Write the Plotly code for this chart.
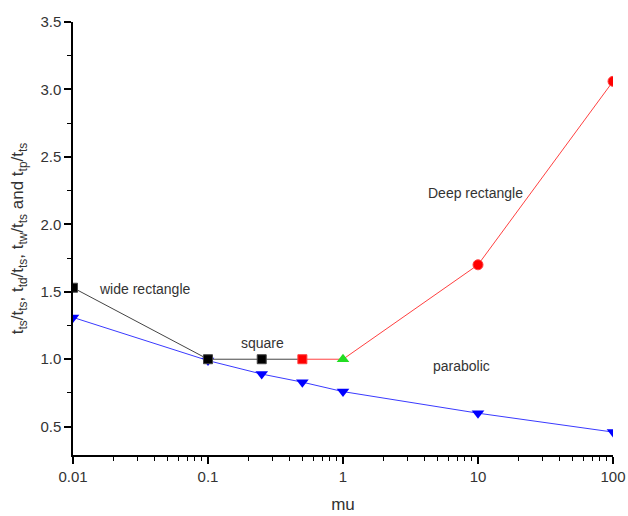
import plotly.graph_objects as go

# data
wide_x = [0.01, 0.1, 0.25, 0.5]
wide_y = [1.53, 1.0, 1.0, 1.0]
wide_sizes = [9, 9, 9, 0]
deep_x = [0.5, 1, 10, 100]
deep_y = [1.0, 1.0, 1.70, 3.06]
deep_symbols = ["square", "circle", "circle", "circle"]
deep_sizes = [9, 0, 10, 10]
sq_x = [1]
sq_y = [1.0]
para_x = [0.01, 0.1, 0.25, 0.5, 1, 10, 100]
para_y = [1.31, 0.99, 0.89, 0.83, 0.76, 0.60, 0.46]
x_ticks = [0.01, 0.1, 1, 10, 100]
x_ticklabels = ["0.01", "0.1", "1", "10", "100"]
y_ticks = [0.5, 1.0, 1.5, 2.0, 2.5, 3.0, 3.5]

font = "Liberation Sans, Arial, sans-serif"

fig = go.Figure()
fig.add_trace(go.Scatter(x=para_x, y=para_y, mode="lines+markers",
                         line=dict(color="#3a3aff", width=1),
                         marker=dict(symbol="triangle-down", size=11, color="#0000ff", opacity=1),
                         showlegend=False))
fig.add_trace(go.Scatter(x=wide_x, y=wide_y, mode="lines+markers",
                         line=dict(color="#444444", width=1),
                         marker=dict(symbol="square", size=wide_sizes, color="#000000", opacity=1),
                         showlegend=False))
fig.add_trace(go.Scatter(x=deep_x, y=deep_y, mode="lines+markers",
                         line=dict(color="#ff4040", width=1),
                         marker=dict(symbol=deep_symbols, size=deep_sizes, color="#ff0000", opacity=1),
                         showlegend=False))
fig.add_trace(go.Scatter(x=sq_x, y=sq_y, mode="markers",
                         marker=dict(symbol="triangle-up", size=11, color="#22dd22", opacity=1),
                         showlegend=False))

ann_font = dict(family=font, size=14, color="#333333")
fig.add_annotation(x=-1.467, y=1.52, text="wide rectangle", showarrow=False, font=ann_font)
fig.add_annotation(x=-0.593, y=1.12, text="square", showarrow=False, font=ann_font)
fig.add_annotation(x=0.978, y=2.23, text="Deep rectangle", showarrow=False, font=ann_font)
fig.add_annotation(x=0.881, y=0.95, text="parabolic", showarrow=False, font=ann_font)

fig.update_layout(
    width=628, height=516,
    margin=dict(l=73, r=15, t=22, b=61),
    paper_bgcolor="white", plot_bgcolor="white",
    font=dict(family=font, size=15, color="#333333"),
    xaxis=dict(type="log", range=[-2, 2], tickvals=x_ticks, ticktext=x_ticklabels,
               automargin=False,
               showgrid=False, zeroline=False, showline=True, linecolor="black", linewidth=1.5,
               ticks="outside", ticklen=7, tickwidth=1.5, tickcolor="black",
               minor=dict(ticks="outside", dtick="D1", ticklen=4, tickwidth=1, tickcolor="black", showgrid=False),
               title=dict(text="mu", font=dict(size=17), standoff=14)),
    yaxis=dict(range=[0.29, 3.5], tickvals=y_ticks, tickformat=".1f",
               automargin=False,
               showgrid=False, zeroline=False, showline=True, linecolor="black", linewidth=1.5,
               ticks="outside", ticklen=7, tickwidth=1.5, tickcolor="black",
               minor=dict(ticks="outside", dtick=0.25, tick0=0.25, ticklen=4, tickwidth=1, tickcolor="black", showgrid=False),
               title=dict(text="t<sub>ts</sub>/t<sub>ts</sub>, t<sub>td</sub>/t<sub>ts</sub>, t<sub>tw</sub>/t<sub>ts</sub> and t<sub>tp</sub>/t<sub>ts</sub>",
                          font=dict(size=17), standoff=12)),
)

fig.write_html("out.html", config={"displayModeBar": False},
               post_script="document.body.style.margin='0';document.body.style.overflow='hidden';")
